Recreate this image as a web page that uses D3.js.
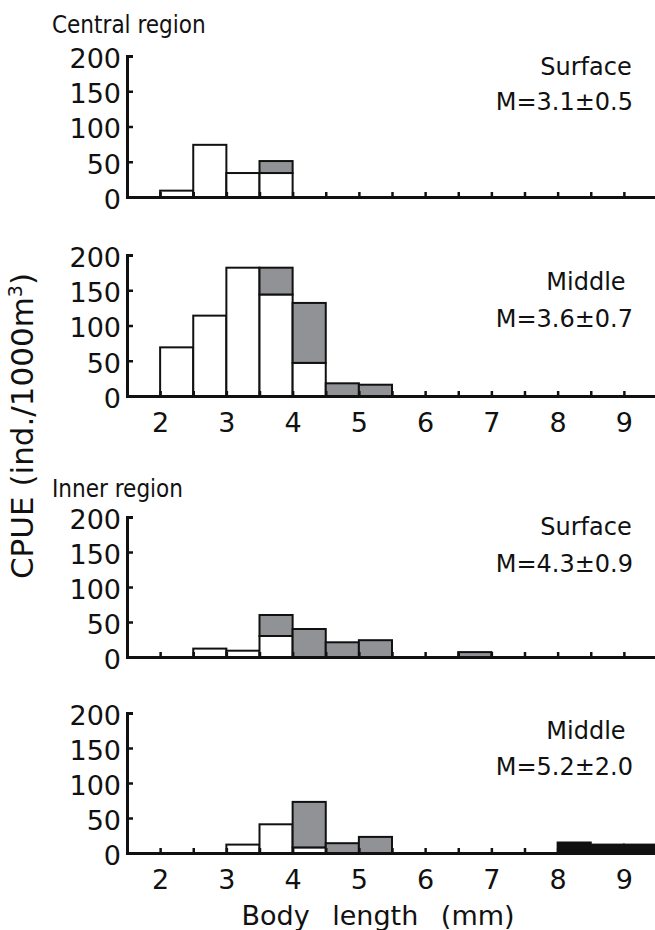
<!DOCTYPE html>
<html>
<head>
<meta charset="utf-8">
<script src="https://cdn.jsdelivr.net/npm/d3@7"></script>
<style>
  body { margin: 0; background: #fff; }
  svg { display: block; }
  text { font-family: "DejaVu Sans", sans-serif; fill: #111; }
</style>
</head>
<body>
<svg id="chart"></svg>
<script>
// body length bins (lower edge, mm), 0.5 mm wide
var binStarts = [2, 2.5, 3, 3.5, 4, 4.5, 5, 5.5, 6, 6.5, 7, 7.5, 8, 8.5, 9];
var stages = ["white", "gray", "black"];
var yTicks = [0, 50, 100, 150, 200];
var xTicks = [2, 2.5, 3, 3.5, 4, 4.5, 5, 5.5, 6, 6.5, 7, 7.5, 8, 8.5, 9, 9.5];

var regions = ["Central region", "Inner region"];
var layers = ["Surface", "Middle", "Surface", "Middle"];
var means = ["M=3.1\u00b10.5", "M=3.6\u00b10.7", "M=4.3\u00b10.9", "M=5.2\u00b12.0"];

// CPUE (ind./1000m3) per bin
var centralSurfaceWhite = [9, 74, 34, 34, 0, 0, 0, 0, 0, 0, 0, 0, 0, 0, 0];
var centralSurfaceGray  = [0, 0, 0, 17, 0, 0, 0, 0, 0, 0, 0, 0, 0, 0, 0];
var centralSurfaceBlack = [0, 0, 0, 0, 0, 0, 0, 0, 0, 0, 0, 0, 0, 0, 0];

var centralMiddleWhite = [69, 114, 182, 144, 47, 0, 0, 0, 0, 0, 0, 0, 0, 0, 0];
var centralMiddleGray  = [0, 0, 0, 38, 85, 18, 16, 0, 0, 0, 0, 0, 0, 0, 0];
var centralMiddleBlack = [0, 0, 0, 0, 0, 0, 0, 0, 0, 0, 0, 0, 0, 0, 0];

var innerSurfaceWhite = [0, 12, 9, 30, 0, 0, 0, 0, 0, 0, 0, 0, 0, 0, 0];
var innerSurfaceGray  = [0, 0, 0, 30, 40, 21, 24, 0, 0, 7, 0, 0, 0, 0, 0];
var innerSurfaceBlack = [0, 0, 0, 0, 0, 0, 0, 0, 0, 0, 0, 0, 0, 0, 0];

var innerMiddleWhite = [0, 0, 12, 41, 8, 0, 0, 0, 0, 0, 0, 0, 0, 0, 0];
var innerMiddleGray  = [0, 0, 0, 0, 65, 14, 23, 0, 0, 0, 0, 0, 0, 0, 0];
var innerMiddleBlack = [0, 0, 0, 0, 0, 0, 0, 0, 0, 0, 0, 0, 15, 12, 12];

var width = 655, height = 930;
var colors = { white: "#ffffff", gray: "#909295", black: "#111111" };

var svg = d3.select("#chart")
  .attr("width", width)
  .attr("height", height);

var x = d3.scaleLinear().domain([1.5, 9.5]).range([127, 657]);

// panel layout: top (y of 200), bottom (y of 0)
var panels = [
  { top: 56,  bottom: 197, labels: false, layerY: 19, meanY: 54, white: centralSurfaceWhite, gray: centralSurfaceGray, black: centralSurfaceBlack },
  { top: 255, bottom: 396, labels: true,  layerY: 35, meanY: 72, white: centralMiddleWhite, gray: centralMiddleGray, black: centralMiddleBlack },
  { top: 517, bottom: 657, labels: false, layerY: 18, meanY: 55, white: innerSurfaceWhite, gray: innerSurfaceGray, black: innerSurfaceBlack },
  { top: 713, bottom: 853, labels: true,  layerY: 26, meanY: 62, white: innerMiddleWhite, gray: innerMiddleGray, black: innerMiddleBlack }
];

panels.forEach(function (p, i) {
  var y = d3.scaleLinear().domain([0, 200]).range([p.bottom, p.top]);
  var g = svg.append("g").attr("class", "panel-" + i);

  var rows = binStarts.map(function (b, j) {
    return { bin: b, white: p.white[j], gray: p.gray[j], black: p.black[j] };
  });
  var series = d3.stack().keys(stages)(rows);

  series.forEach(function (s) {
    g.selectAll(null)
      .data(s.filter(function (d) { return d[1] - d[0] > 0; }))
      .enter().append("rect")
        .attr("x", function (d) { return x(d.data.bin); })
        .attr("width", function (d) { return x(d.data.bin + 0.5) - x(d.data.bin); })
        .attr("y", function (d) { return y(d[1]); })
        .attr("height", function (d) { return y(d[0]) - y(d[1]); })
        .style("fill", colors[s.key])
        .style("stroke", "#111")
        .style("stroke-width", 2);
  });

  var yAxis = d3.axisLeft(y)
    .tickValues(yTicks)
    .tickSizeInner(-6)
    .tickSizeOuter(-6)
    .tickPadding(6);

  var xAxis = d3.axisBottom(x)
    .tickValues(xTicks)
    .tickSizeInner(-5)
    .tickSizeOuter(0)
    .tickPadding(16)
    .tickFormat(function (d) { return (p.labels && d % 1 === 0 && d < 9.5) ? d : ""; });

  var gx = g.append("g")
    .attr("transform", "translate(0," + p.bottom + ")")
    .call(xAxis);
  var gy = g.append("g")
    .attr("transform", "translate(" + x(1.5) + ",0)")
    .call(yAxis);

  [gx, gy].forEach(function (a) {
    a.select(".domain").style("stroke", "#111").style("stroke-width", 3);
    a.selectAll(".tick line").style("stroke", "#111").style("stroke-width", 2.5);
    a.selectAll(".tick text").style("font-size", "27px").style("fill", "#111");
  });
  gx.selectAll(".tick text").attr("dy", "0.74em");
  gy.selectAll(".tick text").attr("dy", "0.42em");

  g.append("text")
    .attr("x", 586)
    .attr("y", p.top + p.layerY)
    .attr("text-anchor", "middle")
    .style("font-size", "24px")
    .text(layers[i]);

  g.append("text")
    .attr("x", 633)
    .attr("y", p.top + p.meanY)
    .attr("text-anchor", "end")
    .style("font-size", "24px")
    .text(means[i]);
});

var titleFont = "'Liberation Sans Narrow', 'DejaVu Sans Condensed', sans-serif";

svg.append("text")
  .attr("x", 52)
  .attr("y", 33)
  .style("font-family", titleFont)
  .style("font-size", "24px")
  .text(regions[0]);

svg.append("text")
  .attr("x", 52)
  .attr("y", 497)
  .style("font-family", titleFont)
  .style("font-size", "24px")
  .text(regions[1]);

svg.append("text")
  .attr("transform", "translate(33,426) rotate(-90)")
  .attr("text-anchor", "middle")
  .style("font-size", "31px")
  .html("CPUE (ind./1000m<tspan baseline-shift=\"super\" font-size=\"19px\">3</tspan>)");

svg.append("text")
  .attr("x", 378)
  .attr("y", 925)
  .attr("text-anchor", "middle")
  .style("font-size", "27px")
  .style("word-spacing", "14px")
  .text("Body length (mm)");
</script>
</body>
</html>
